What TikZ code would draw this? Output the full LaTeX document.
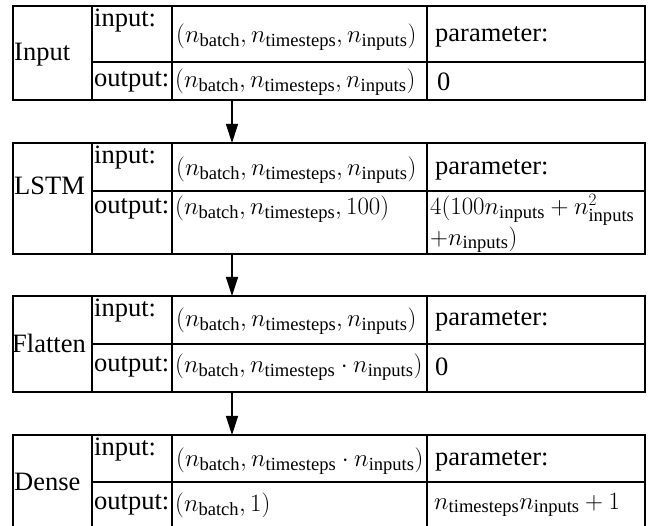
\documentclass[tikz,border=0pt]{standalone}
\usepackage{amsmath}
\usepackage[no-math]{fontspec}
\setmainfont{Liberation Serif}
\usetikzlibrary{arrows.meta}
\newcommand{\mysub}[1]{\text{#1}}
\newcommand{\nbat}{n_{\mysub{batch}}}
\newcommand{\ntim}{n_{\mysub{timesteps}}}
\newcommand{\ninp}{n_{\mysub{inputs}}}
\begin{document}
\begin{tikzpicture}[x=1pt,y=-1pt,
  box/.style={draw,line width=1.8pt,minimum width=632pt,inner sep=0pt,outer sep=0pt},
  inner/.style={line width=1.2pt},
  txt/.style={inner sep=0pt,anchor=west,font=\fontsize{26.5}{31}\selectfont},
  arr/.style={line width=1.2pt,-{Triangle[length=19pt,width=12pt]}}]
\useasboundingbox (0,0) rectangle (654,526);
% boxes
\node[box,minimum height=94pt] (b1) at (329,53) {};
\node[box,minimum height=111pt] (b2) at (329,198.5) {};
\node[box,minimum height=96pt] (b3) at (329,344) {};
\node[box,minimum height=92pt] (b4) at (329,481) {};
% inner lines
\foreach \t/\m/\d in {6/62/100, 143/191/254, 296/344/392, 435/482/527}{
  \draw[inner] (92,\t) -- (92,\d);
  \draw[inner] (172,\t) -- (172,\d);
  \draw[inner] (427,\t) -- (427,\d);
  \draw[inner] (92,\m) -- (645,\m);
}
% box 1
\node[txt] (n1) at (14,55) {Input};
\node[txt,anchor=north west] (i1) at (94,9) {input:};
\node[txt] (f1) at (176,37) {$(\nbat, \ntim, \ninp)$};
\node[txt] (p1) at (435,37) {parameter:};
\node[txt] (o1) at (94,82) {output:};
\node[txt] (g1) at (175,82) {$(\nbat, \ntim, \ninp)$};
\node[txt] (v1) at (437,82) {0};
% box 2
\node[txt] (n2) at (14,186) {LSTM};
\node[txt,anchor=north west] (i2) at (94,146) {input:};
\node[txt] (f2) at (176,170) {$(\nbat, \ntim, \ninp)$};
\node[txt] (p2) at (435,170) {parameter:};
\node[txt] (o2) at (94,209) {output:};
\node[txt] (g2) at (175,209) {$(\nbat, \ntim, 100)$};
\node[txt,anchor=north west,align=left,font=\fontsize{26.5}{23}\selectfont] (v2) at (430,194) {$4(100\ninp + n_{\mysub{inputs}}^2$\\$+\ninp)$};
% box 3
\node[txt] (n3) at (12,343) {Flatten};
\node[txt,anchor=north west] (i3) at (94,299) {input:};
\node[txt] (f3) at (176,321) {$(\nbat, \ntim, \ninp)$};
\node[txt] (p3) at (435,321) {parameter:};
\node[txt] (o3) at (94,367) {output:};
\node[txt] (g3) at (175,367) {$(\nbat, \ntim\cdot\ninp)$};
\node[txt] (v3) at (435,367) {0};
% box 4
\node[txt] (n4) at (14,482) {Dense};
\node[txt,anchor=north west] (i4) at (94,438) {input:};
\node[txt] (f4) at (176,461) {$(\nbat, \ntim\cdot\ninp)$};
\node[txt] (p4) at (435,461) {parameter:};
\node[txt] (o4) at (94,505) {output:};
\node[txt] (g4) at (175,505) {$(\nbat, 1)$};
\node[txt] (v4) at (434,505) {$\ntim\ninp + 1$};
% arrows
\draw[arr] ([xshift=-97pt]b1.south) -- ([xshift=-97pt]b2.north);
\draw[arr] ([xshift=-97pt]b2.south) -- ([xshift=-97pt]b3.north);
\draw[arr] ([xshift=-97pt]b3.south) -- ([xshift=-97pt]b4.north);
\end{tikzpicture}
\end{document}
